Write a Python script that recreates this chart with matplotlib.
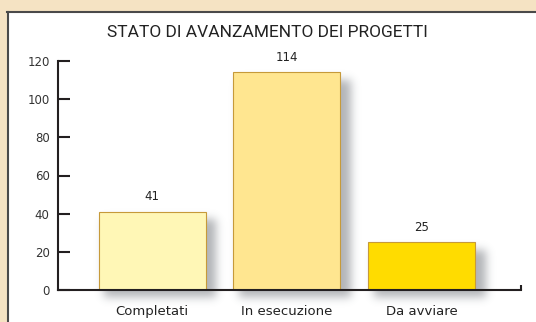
import matplotlib
matplotlib.use('Agg')
import matplotlib.pyplot as plt
import numpy as np
from matplotlib.patches import Rectangle
from matplotlib.lines import Line2D

# dati
categorie = ['Completati', 'In esecuzione', 'Da avviare']
progetti = [41, 114, 25]
colori = ['#FFF7B6', '#FFE690', '#FFDC00']
yticks = [0, 20, 40, 60, 80, 100, 120]

W, H = 536, 322
fig = plt.figure(figsize=(W / 100, H / 100), dpi=100)
fig.patch.set_facecolor('#F5E3C3')

# pannello bianco con bordo scuro a sinistra e in alto
fig.patches.append(Rectangle((7 / W, 0), 1 - 7 / W, 1 - 12 / H, transform=fig.transFigure,
                             facecolor='white', edgecolor='none', zorder=-3))
fig.lines.append(Line2D([8 / W, 8 / W], [0, 1 - 12 / H], transform=fig.transFigure,
                        color='#4A4A4A', lw=1.5, zorder=-2))
fig.lines.append(Line2D([7 / W, 1], [1 - 12 / H, 1 - 12 / H], transform=fig.transFigure,
                        color='#4A4A4A', lw=1.5, zorder=-2))

ax = fig.add_axes([58 / W, 32 / H, (521 - 58) / W, 229 / H])
ax.set_facecolor('none')

x = np.arange(len(categorie))
bars = ax.bar(x, progetti, width=0.794, color=colori, edgecolor='#C69A3A', linewidth=0.8, zorder=2)

ax.set_xlim(-0.699, 2.737)
ax.set_ylim(0, 120)
ax.set_yticks(yticks)
ax.set_xticks(x)
ax.set_xticklabels(categorie)
ax.set_xticks([2.737], minor=True)

for s in ['top', 'right']:
    ax.spines[s].set_visible(False)
for s in ['left', 'bottom']:
    ax.spines[s].set_linewidth(1.5)
    ax.spines[s].set_color('#231F20')
    ax.spines[s].set_zorder(3)

ax.tick_params(axis='y', direction='in', length=8.6, width=1.5, color='#231F20',
               labelsize=8.5, labelcolor='#333333', pad=6)
ax.tick_params(axis='x', which='major', length=0, labelsize=9.5, labelcolor='#222222', pad=11)
ax.tick_params(axis='x', which='minor', direction='in', length=3.5, width=1.5, color='#231F20')

for xi, v in zip(x, progetti):
    ax.annotate(str(v), (xi, v), xytext=(0, 6), textcoords='offset points',
                ha='center', va='bottom', fontsize=8.5, color='#222222')

fig.text(267 / W, 1 - 37 / H, 'STATO DI AVANZAMENTO DEI PROGETTI', ha='center', va='baseline',
         fontsize=12.5, family='Roboto', color='#222222')

# ombra sfumata delle barre
alpha = np.zeros((H, W))
for b in bars:
    (x0, y0), (x1, y1) = ax.transData.transform([(b.get_x(), 0), (b.get_x() + b.get_width(), b.get_height())])
    c0, c1 = int(x0 + 6), int(x1 + 11)
    r0, r1 = int(H - y1 + 8), int(H - y0 + 7)
    alpha[r0:r1, c0:c1] = 1.0

k = np.arange(-15, 16)
g = np.exp(-k ** 2 / (2 * 4.5 ** 2))
g /= g.sum()
alpha = np.apply_along_axis(lambda r: np.convolve(r, g, mode='same'), 1, alpha)
alpha = np.apply_along_axis(lambda c: np.convolve(c, g, mode='same'), 0, alpha)

ombra = np.zeros((H, W, 4))
ombra[..., :3] = [0.33, 0.35, 0.38]
ombra[..., 3] = alpha * 0.45
fig.figimage(ombra, 0, 0, origin='upper', zorder=-1)

fig.savefig('out.png', dpi=100, facecolor=fig.get_facecolor())
